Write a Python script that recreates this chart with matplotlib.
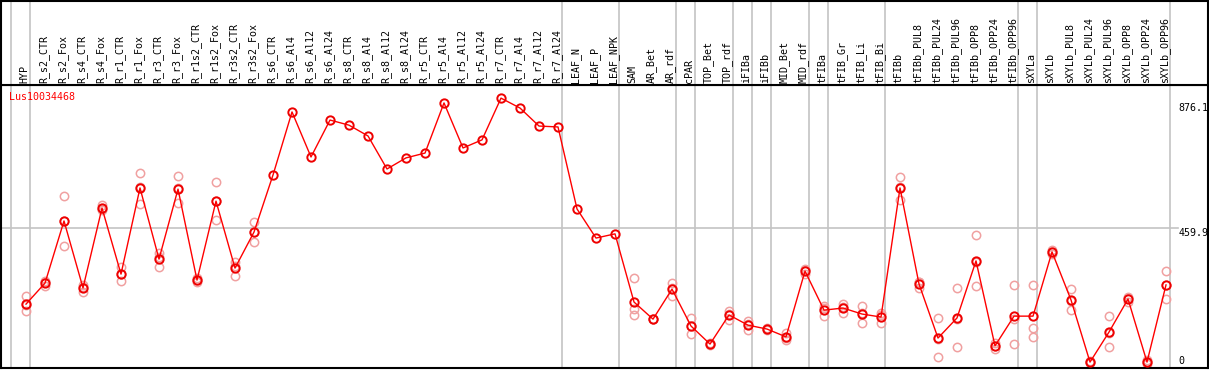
import numpy as np
import matplotlib.pyplot as plt
from matplotlib import transforms

## expression profile of one gene across tissues / treatments

gene = "Lus10034468"

samples = ["HYP",
           "R_s2_CTR", "R_s2_Fox", "R_s4_CTR", "R_s4_Fox", "R_r1_CTR", "R_r1_Fox",
           "R_r3_CTR", "R_r3_Fox", "R_r1s2_CTR", "R_r1s2_Fox", "R_r3s2_CTR", "R_r3s2_Fox",
           "R_s6_CTR", "R_s6_Al4", "R_s6_Al12", "R_s6_Al24",
           "R_s8_CTR", "R_s8_Al4", "R_s8_Al12", "R_s8_Al24",
           "R_r5_CTR", "R_r5_Al4", "R_r5_Al12", "R_r5_Al24",
           "R_r7_CTR", "R_r7_Al4", "R_r7_Al12", "R_r7_Al24",
           "LEAF_N", "LEAF_P", "LEAF_NPK",
           "SAM", "AR_Bet", "AR_rdf", "cPAR", "TOP_Bet", "TOP_rdf",
           "iFIBa", "iFIBb", "MID_Bet", "MID_rdf", "tFIBa",
           "tFIB_Gr", "tFIB_Li", "tFIB_Bi",
           "tFIBb", "tFIBb_PUL8", "tFIBb_PUL24", "tFIBb_PUL96",
           "tFIBb_OPP8", "tFIBb_OPP24", "tFIBb_OPP96",
           "sXYLa", "sXYLb", "sXYLb_PUL8", "sXYLb_PUL24", "sXYLb_PUL96",
           "sXYLb_OPP8", "sXYLb_OPP24", "sXYLb_OPP96"]

# number of samples in each group (separated by grey lines)
group_sizes = [1, 28, 3, 3, 1, 2, 1, 1, 2, 1, 3, 7, 1, 7]

# mean expression
means = [206, 276, 483, 260, 526, 306, 593, 356, 589, 286, 549, 326, 446,
         636, 846, 696, 819, 802, 766, 656, 693, 709, 876, 726, 753,
         892, 859, 799, 796, 523, 426, 440,
         213, 156, 256, 133, 73, 170, 136, 123, 97, 316, 186,
         193, 173, 163,
         593, 273, 93, 160, 350, 67, 166,
         166, 380, 220, 13, 113, 223, 13, 270]

# replicates (only where they differ visibly from the mean)
replicates = {
    0: [233, 203, 183], 1: [283, 280, 266], 2: [566, 483, 400],
    3: [270, 263, 246], 4: [536, 523, 519], 5: [330, 306, 283],
    6: [643, 597, 539], 7: [376, 363, 330], 8: [633, 592, 543],
    9: [293, 286, 280], 10: [613, 549, 486], 11: [346, 333, 300],
    12: [480, 446, 413],
    32: [293, 190, 170], 33: [156, 156, 156], 34: [276, 260, 233],
    35: [160, 133, 107], 36: [77, 73, 70], 37: [183, 173, 153],
    38: [150, 140, 120], 39: [126, 123, 120], 40: [110, 93, 87],
    41: [323, 320, 306], 42: [193, 200, 166], 43: [206, 197, 176],
    44: [200, 177, 143], 45: [176, 170, 143], 46: [629, 596, 553],
    47: [280, 279, 260], 48: [160, 90, 30], 49: [260, 157, 63],
    50: [436, 347, 266], 51: [77, 66, 57], 52: [270, 157, 73],
    53: [270, 127, 97], 54: [386, 380, 373], 55: [256, 217, 186],
    56: [17, 13, 10], 57: [166, 111, 63], 58: [230, 226, 213],
    59: [20, 13, 7], 60: [316, 270, 223],
}

y_max_label = 876.1
y_mid_label = 459.9

###########################################################################
W, H = 1209, 370
fig = plt.figure(figsize=(W / 100, H / 100), dpi=100)
plt.rcParams['font.family'] = 'DejaVu Sans Mono'

left, right = 1 / W, 1208 / W
hdr = 85
ax = fig.add_axes([left, 2 / H, right - left, (368 - hdr) / H])
hax = fig.add_axes([left, (H - hdr) / H, right - left, (hdr - 1) / H])

x = np.arange(len(samples))
xlim = (-1.316, 62.21)
for a in (ax, hax):
    a.set_xlim(*xlim)
    a.set_xticks([])
    a.set_yticks([])
    for s in a.spines.values():
        s.set_linewidth(1.5)
        s.set_color('black')

ax.set_ylim(-6.7, 935.7)
hax.set_ylim(0, 1)

# group separators
bounds = np.cumsum([0] + group_sizes) - 1 + 4 / 19
for b in bounds:
    ax.axvline(b, color='#c4c4c4', lw=1.2, zorder=0)
    hax.axvline(b, color='#c4c4c4', lw=1.2, zorder=0)

ax.axhline(y_mid_label, xmax=0.975, color='#c4c4c4', lw=1.2, zorder=0)

# header labels
for i, name in enumerate(samples):
    hax.text(i - 0.08, 0.02, name, rotation=90, ha='center', va='bottom',
             fontsize=7.2, color='black')

# replicates
for i, reps in replicates.items():
    ax.plot([i] * len(reps), reps, 'o', ms=6, mfc='none', mec='#f0a0a0',
            mew=1.1, zorder=2)

ax.plot(x, means, '-', color='red', lw=1, zorder=3)
ax.plot(x, means, 'o', ms=6, mfc='none', mec='#ee0000', mew=1.4, zorder=4)

# right hand scale labels
tr = transforms.blended_transform_factory(ax.transAxes, ax.transData)
ax.text(0.9755, y_max_label, '876.1', transform=tr, ha='left', va='top', fontsize=7.2)
ax.text(0.9755, y_mid_label, '459.9', transform=tr, ha='left', va='top', fontsize=7.2)
ax.text(0.9755, 0, '0', transform=tr, ha='left', va='bottom', fontsize=7.2)

fig.text(9 / W, 1 - 92 / H, gene, color='red', ha='left', va='top', fontsize=7.2)

fig.savefig('out.png', dpi=100)
